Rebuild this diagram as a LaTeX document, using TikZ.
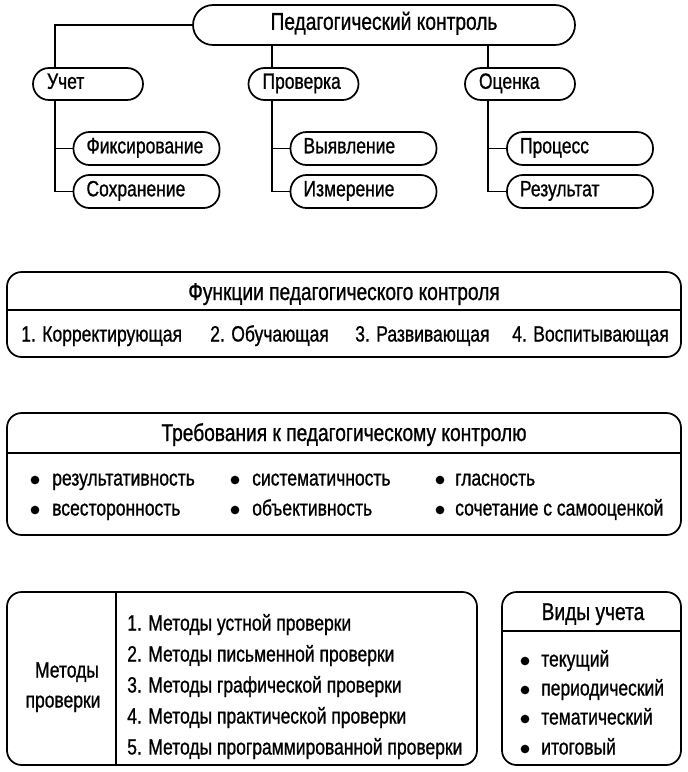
\documentclass[tikz,border=0pt]{standalone}
\usepackage{fontspec}
\setmainfont[FakeStretch=0.79,FakeBold=0.9]{Liberation Sans}
\begin{document}
\begin{tikzpicture}[x=0.75pt,y=-0.75pt,
  every node/.style={font=\fontsize{16.6}{19}\selectfont, inner sep=0pt},
  titlefont/.style={font=\fontsize{18.2}{21}\selectfont},
  ln/.style={line width=1.3pt},
  pill/.style={draw, ln, rounded corners=12pt, minimum height=24pt, minimum width=82.5pt, inner xsep=10.5pt, text width=61.5pt, align=left, text height=0.72em, text depth=0pt},
  leaf/.style={draw, ln, rounded corners=12pt, minimum height=24.75pt, minimum width=109.5pt, inner xsep=9.75pt, text width=90pt, align=left, text height=0.72em, text depth=0pt},
  bigbox/.style={draw, ln, rounded corners=11pt},
  txt/.style={anchor=base west},
  ttl/.style={anchor=base, titlefont},
  dot/.style={circle, fill, minimum size=6.5pt}
]
\useasboundingbox (0,0) rectangle (687,772);
\fill[white] (0,0) rectangle (687,772);

% ---------- tree ----------
\node[draw, ln, rounded corners=15pt, minimum width=286.5pt, minimum height=30pt, titlefont, text height=0.72em, text depth=0pt] (top) at (384,25) {Педагогический контроль};
\node[pill] (uchet) at (88,84) {Учет};
\node[pill] (prov) at (303.5,84) {Проверка};
\node[pill] (ocen) at (520,84) {Оценка};
\node[leaf] (fiks) at (146.5,148.5) {Фиксирование};
\node[leaf] (sohr) at (146.5,191.5) {Сохранение};
\node[leaf] (vyyav) at (363.5,148.5) {Выявление};
\node[leaf] (izm) at (363.5,191.5) {Измерение};
\node[leaf] (proc) at (580,148.5) {Процесс};
\node[leaf] (rez) at (580,191.5) {Результат};

\coordinate (uL) at (55,0);
\coordinate (pL) at (272,0);
\coordinate (oL) at (488,0);

\draw[ln] (top.west) -| (uchet.north -| uL);
\draw[ln] (top.south -| pL) -- (prov.north -| pL);
\draw[ln] (top.south -| oL) -- (ocen.north -| oL);
\draw[ln] (uchet.south -| uL) |- (fiks.west);
\draw[ln] (uchet.south -| uL) |- (sohr.west);
\draw[ln] (prov.south -| pL) |- (vyyav.west);
\draw[ln] (prov.south -| pL) |- (izm.west);
\draw[ln] (ocen.south -| oL) |- (proc.west);
\draw[ln] (ocen.south -| oL) |- (rez.west);

% ---------- functions ----------
\node[bigbox, minimum width=505.5pt, minimum height=63.75pt] (func) at (344,314.5) {};
\coordinate (fd) at (0,310);
\draw[ln] (func.west |- fd) -- (func.east |- fd);
\node[ttl] (functitle) at (344,300) {Функции педагогического контроля};
\node[txt] (f1) at (21,341.5) {1. Корректирующая};
\node[txt] (f2) at (210,341.5) {2. Обучающая};
\node[txt] (f3) at (355,341.5) {3. Развивающая};
\node[txt] (f4) at (512,341.5) {4. Воспитывающая};

% ---------- requirements ----------
\node[bigbox, minimum width=505.5pt, minimum height=91.5pt] (req) at (344,474) {};
\coordinate (rd) at (0,453);
\draw[ln] (req.west |- rd) -- (req.east |- rd);
\node[ttl] (reqtitle) at (344,441) {Требования к педагогическому контролю};
\node[dot] (b1) at (35,480) {};
\node[txt] (r1) at (52,485.5) {результативность};
\node[dot] (b2) at (235,480) {};
\node[txt] (r2) at (252,485.5) {систематичность};
\node[dot] (b3) at (440,480) {};
\node[txt] (r3) at (455,485.5) {гласность};
\node[dot] (b4) at (35,510) {};
\node[txt] (r4) at (52,515.5) {всесторонность};
\node[dot] (b5) at (235,510) {};
\node[txt] (r5) at (252,515.5) {объективность};
\node[dot] (b6) at (440,510) {};
\node[txt] (r6) at (455,515.5) {сочетание с самооценкой};

% ---------- methods ----------
\node[bigbox, minimum width=352.5pt, minimum height=129.75pt] (meth) at (242,678.5) {};
\coordinate (md) at (116,0);
\draw[ln] (meth.north -| md) -- (meth.south -| md);
\node[anchor=base] (methA) at (67,677.5) {Методы};
\node[anchor=base] (methB) at (63,707.5) {проверки};
\node[txt] (m1) at (127,630.5) {1. Методы устной проверки};
\node[txt] (m2) at (127,661.5) {2. Методы письменной проверки};
\node[txt] (m3) at (127,692.5) {3. Методы графической проверки};
\node[txt] (m4) at (127,723.5) {4. Методы практической проверки};
\node[txt] (m5) at (127,754.5) {5. Методы программированной проверки};

% ---------- kinds ----------
\node[bigbox, minimum width=134.25pt, minimum height=129.75pt] (kind) at (591.5,678.5) {};
\coordinate (kd) at (0,631);
\draw[ln] (kind.west |- kd) -- (kind.east |- kd);
\node[ttl] (kindtitle) at (593,620) {Виды учета};
\node[dot] (k1d) at (525,661) {};
\node[txt] (k1) at (541,666.5) {текущий};
\node[dot] (k2d) at (525,690) {};
\node[txt] (k2) at (541,695.5) {периодический};
\node[dot] (k3d) at (525,719) {};
\node[txt] (k3) at (541,724.5) {тематический};
\node[dot] (k4d) at (525,749) {};
\node[txt] (k4) at (541,754.5) {итоговый};
\end{tikzpicture}
\end{document}
